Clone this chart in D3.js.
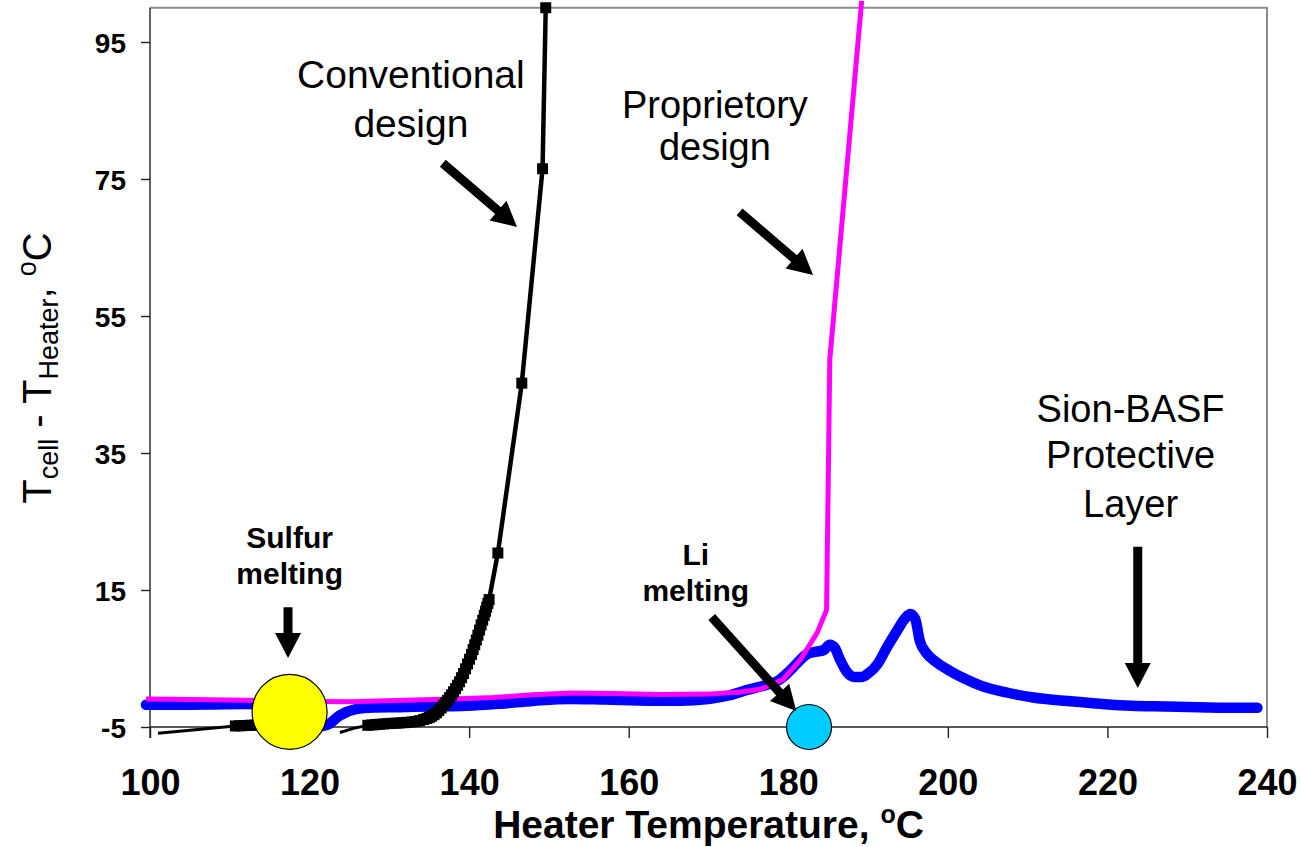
<!DOCTYPE html>
<html>
<head>
<meta charset="utf-8">
<script src="https://cdn.jsdelivr.net/npm/d3@7"></script>
<style>
  html, body { margin: 0; padding: 0; background: #fff; }
  svg { display: block; font-family: Arial, "Liberation Sans", sans-serif; }
</style>
</head>
<body>
<svg id="chart" width="1301" height="847"></svg>
<script>
// ---- axis ticks ----
const xTicks = [100, 120, 140, 160, 180, 200, 220, 240];
const yTicks = [-5, 15, 35, 55, 75, 95];

// ---- series: [heater temperature °C, T_cell - T_heater °C] ----
// Sion-BASF protective layer (blue)
const sionLayer = [
  [99.5, -1.75], [104, -1.75], [108, -1.7], [112, -1.65], [115, -1.75], [117.5, -2.2],
  [119.5, -3.4], [121.3, -4.9], [122.2, -4.7], [123.8, -3.3], [125.8, -2.4], [128, -2.15],
  [131.3, -2.1], [135, -2.0], [139.7, -1.9], [143.9, -1.6], [148, -1.2], [152.6, -0.9],
  [157, -1.0], [162.7, -1.15], [166.4, -1.15], [170, -0.9], [172.5, -0.4], [174.8, 0.4],
  [176.8, 1.0], [178.9, 1.9], [180.0, 3.0], [181.1, 4.3], [182.3, 5.6], [183.5, 6.0],
  [184.4, 6.2], [185.2, 7.0], [185.8, 6.6], [186.5, 4.8], [187.3, 3.1], [188.3, 2.3],
  [189.2, 2.3], [190.0, 2.8], [191.2, 4.2], [192.4, 6.7], [193.6, 9.0], [194.6, 10.8],
  [195.3, 11.5], [195.9, 10.8], [196.5, 7.5], [197.3, 5.8], [198.4, 4.6], [200.1, 3.3],
  [202.2, 2.0], [204.2, 1.0], [207.5, 0.0], [210.7, -0.7], [215, -1.2], [219, -1.6],
  [223, -1.9], [227.4, -2.0], [231.5, -2.1], [235.7, -2.2], [238.8, -2.2]
];

// Proprietory design (magenta)
const proprietory = [
  [99.5, -0.9], [105, -1.0], [112, -1.1], [118, -1.25], [125, -1.3], [132, -1.1],
  [138, -0.9], [143, -0.7], [148, -0.3], [153, -0.05], [158, -0.1], [164, -0.25],
  [170, -0.2], [174, 0.1], [176.5, 0.5], [179.3, 1.9], [181.5, 4.8], [183.6, 8.7],
  [184.8, 12.1], [185.2, 48.6], [189.2, 101.0]
];

// Conventional design (black): unmarked lead-in stretches and marked readings
const convLeadA = [[101.0, -5.9], [106.0, -5.35], [110.7, -4.85]];
const convMarkedA = [
  [110.7, -4.85], [111.2, -4.82], [111.7, -4.8], [112.2, -4.77], [112.7, -4.74],
  [113.2, -4.71], [113.7, -4.68], [114.2, -4.65], [114.8, -4.62], [115.5, -4.6]
];
const convLeadB = [[123.8, -5.8], [125.5, -5.2], [127.3, -4.75]];
const convMarkedB = [
  [127.3, -4.75], [127.8, -4.7], [128.3, -4.65], [128.8, -4.6], [129.3, -4.55],
  [129.8, -4.5], [130.3, -4.47], [130.8, -4.44], [131.3, -4.41], [131.8, -4.37],
  [132.3, -4.32], [132.8, -4.26], [133.3, -4.18], [133.8, -4.07], [134.3, -3.9],
  [134.7, -3.75], [135.0, -3.6], [135.3, -3.42], [135.6, -3.2], [135.9, -2.93],
  [136.2, -2.6], [136.5, -2.22], [136.8, -1.8], [137.05, -1.45], [137.3, -1.1],
  [137.55, -0.7], [137.8, -0.3], [138.05, 0.15], [138.3, 0.6], [138.55, 1.1],
  [138.8, 1.6], [139.05, 2.2], [139.3, 2.8], [139.55, 3.5], [139.8, 4.2],
  [140.05, 4.9], [140.3, 5.6], [140.5, 6.3], [140.7, 7.0], [140.9, 7.7],
  [141.1, 8.4], [141.3, 9.15], [141.5, 9.9], [141.7, 10.6], [141.9, 11.3],
  [142.05, 11.9], [142.2, 12.5], [142.35, 13.05], [142.5, 13.6],
  [143.6, 20.4], [146.6, 45.2], [149.2, 76.5], [149.6, 100.0]
];

// melting points marked on the chart
const meltSulfur = [117.5, -2.8];
const meltLithium = [182.6, -5.0];

// ---- scales ----
const svg = d3.select("#chart");
const x = d3.scaleLinear().domain([100, 240]).range([150, 1267]);
const y = d3.scaleLinear().domain([-5, 100]).range([727, 7.75]);

svg.append("rect").attr("width", 1301).attr("height", 847).attr("fill", "#fff");

// plot frame (top and right edges)
svg.append("path")
  .attr("d", `M${x(100)},${y(100)}H${x(240)}V${y(-5)}`)
  .attr("fill", "none").attr("stroke", "#8c8c8c").attr("stroke-width", 2);

// ---- axes ----
const plainNum = d => String(d);

const xAxis = svg.append("g").attr("transform", `translate(0,${y(-5)})`)
  .call(d3.axisBottom(x).tickValues(xTicks).tickSize(11).tickSizeOuter(0).tickFormat(plainNum));
xAxis.select(".domain").remove();
xAxis.selectAll(".tick line").attr("stroke", "#222").attr("stroke-width", 1.4);
xAxis.selectAll(".tick text")
  .attr("y", 68).attr("dy", 0)
  .attr("font-family", "Arial, 'Liberation Sans', sans-serif")
  .attr("font-size", 36).attr("font-weight", "bold").attr("fill", "#000");

const yAxis = svg.append("g").attr("transform", `translate(${x(100)},0)`)
  .call(d3.axisLeft(y).tickValues(yTicks).tickSize(9).tickSizeOuter(0).tickFormat(plainNum));
yAxis.select(".domain").remove();
yAxis.selectAll(".tick line").attr("stroke", "#222").attr("stroke-width", 1.4);
yAxis.selectAll(".tick text")
  .attr("x", -24).attr("dy", 10)
  .attr("font-family", "Arial, 'Liberation Sans', sans-serif")
  .attr("font-size", 28).attr("font-weight", "bold").attr("fill", "#000");

// axis lines
svg.append("line").attr("x1", x(100)).attr("x2", x(240)).attr("y1", y(-5)).attr("y2", y(-5))
  .attr("stroke", "#222").attr("stroke-width", 1.4);
svg.append("line").attr("x1", x(100)).attr("x2", x(100)).attr("y1", y(100)).attr("y2", y(-5) + 11)
  .attr("stroke", "#222").attr("stroke-width", 1.4);

// ---- series ----
const lineLinear = d3.line().x(d => x(d[0])).y(d => y(d[1]));
const lineSmooth = d3.line().x(d => x(d[0])).y(d => y(d[1])).curve(d3.curveMonotoneX);

svg.append("path").datum(sionLayer).attr("d", lineSmooth)
  .attr("fill", "none").attr("stroke", "#0000ff").attr("stroke-width", 10.5)
  .attr("stroke-linejoin", "round").attr("stroke-linecap", "round");

svg.append("path").datum(proprietory).attr("d", lineLinear)
  .attr("fill", "none").attr("stroke", "#ff00ff").attr("stroke-width", 5)
  .attr("stroke-linejoin", "round");

[convLeadA, convLeadB].forEach(seg => {
  svg.append("path").datum(seg).attr("d", lineLinear)
    .attr("fill", "none").attr("stroke", "#000").attr("stroke-width", 3)
    .attr("stroke-linejoin", "round");
});
[convMarkedA, convMarkedB].forEach(seg => {
  svg.append("path").datum(seg).attr("d", lineLinear)
    .attr("fill", "none").attr("stroke", "#000").attr("stroke-width", 4.5)
    .attr("stroke-linejoin", "round");
  svg.append("g").selectAll("rect").data(seg).join("rect")
    .attr("x", d => x(d[0]) - 5.5).attr("y", d => y(d[1]) - 5.5)
    .attr("width", 11).attr("height", 11).attr("fill", "#000");
});

// ---- melting point markers ----
svg.append("circle").attr("cx", x(meltSulfur[0])).attr("cy", y(meltSulfur[1])).attr("r", 37.5)
  .attr("fill", "#ffff00").attr("stroke", "#000").attr("stroke-width", 1.2);
svg.append("circle").attr("cx", x(meltLithium[0])).attr("cy", y(meltLithium[1])).attr("r", 22.5)
  .attr("fill", "#00ccff").attr("stroke", "#000").attr("stroke-width", 1.2);

// ---- annotation arrows ----
function arrowPath(x1, y1, x2, y2, w = 9, hl = 25, hw = 26) {
  const dx = x2 - x1, dy = y2 - y1, L = Math.hypot(dx, dy);
  const ux = dx / L, uy = dy / L, nx = -uy, ny = ux;
  const bx = x2 - ux * hl, by = y2 - uy * hl;
  const pts = [
    [x1 + nx * w / 2, y1 + ny * w / 2], [bx + nx * w / 2, by + ny * w / 2],
    [bx + nx * hw / 2, by + ny * hw / 2], [x2, y2],
    [bx - nx * hw / 2, by - ny * hw / 2], [bx - nx * w / 2, by - ny * w / 2],
    [x1 - nx * w / 2, y1 - ny * w / 2]
  ];
  return "M" + pts.map(p => p.join(",")).join("L") + "Z";
}
const arrows = [
  [[136.7, 77.3], [146.0, 68.0]],
  [[173.9, 70.2], [183.1, 61.0]],
  [[170.4, 11.06], [181.0, -2.66]],
  [[117.3, 12.5], [117.3, 5.07]],
  [[223.8, 21.3], [223.8, 0.69]]
];
arrows.forEach(([a, b]) => {
  svg.append("path").attr("d", arrowPath(x(a[0]), y(a[1]), x(b[0]), y(b[1]))).attr("fill", "#000");
});

// ---- annotation text ----
function label(lines, t, vals, size, weight) {
  const g = svg.append("text").attr("text-anchor", "middle")
    .attr("font-size", size).attr("font-weight", weight).attr("fill", "#000");
  lines.forEach((s, i) => {
    g.append("tspan").attr("x", x(t)).attr("y", y(vals[i])).text(s);
  });
}
label(["Conventional", "design"], 132.7, [88.3, 81.1], 39, "normal");
label(["Proprietory", "design"], 170.8, [83.9, 77.8], 38, "normal");
label(["Sion-BASF", "Protective", "Layer"], 222.9, [39.5, 32.8, 25.7], 38, "normal");
label(["Sulfur", "melting"], 117.5, [21.1, 15.9], 30, "bold");
label(["Li", "melting"], 168.4, [18.6, 13.4], 30, "bold");

// ---- axis titles ----
const xt = svg.append("text").attr("x", (x(100) + x(240)) / 2).attr("y", 838)
  .attr("text-anchor", "middle").attr("font-size", 39).attr("font-weight", "bold").attr("fill", "#000");
xt.append("tspan").text("Heater Temperature, ");
xt.append("tspan").attr("font-size", 25).attr("dy", -15).text("o");
xt.append("tspan").attr("dy", 15).text("C");

const yt = svg.append("text").attr("transform", "translate(51,368) rotate(-90)")
  .attr("text-anchor", "middle").attr("font-size", 40).attr("fill", "#000");
yt.append("tspan").text("T");
yt.append("tspan").attr("font-size", 27).attr("dy", 7).text("cell");
yt.append("tspan").attr("dy", -7).text(" - T");
yt.append("tspan").attr("font-size", 27).attr("dy", 7).text("Heater");
yt.append("tspan").attr("dy", -7).text(", ");
yt.append("tspan").attr("font-size", 27).attr("dy", -15).text("o");
yt.append("tspan").attr("dy", 15).text("C");
</script>
</body>
</html>
